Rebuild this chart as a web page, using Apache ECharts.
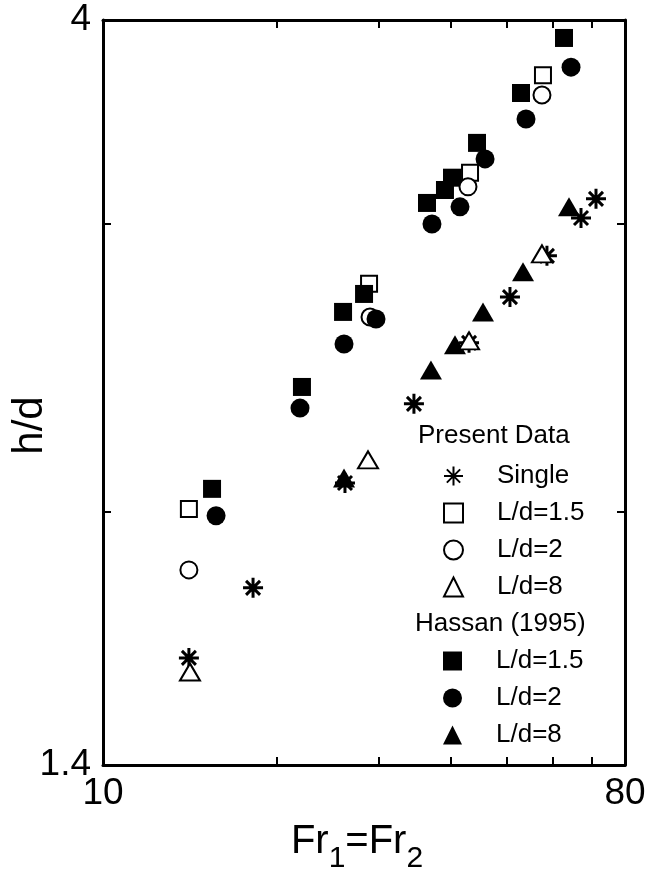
<!DOCTYPE html>
<html lang="en">
<head>
<meta charset="UTF-8">
<title>h/d versus Fr1=Fr2</title>
<style>
  html, body { margin: 0; padding: 0; background: #fff; }
  #chart { width: 648px; height: 873px; }
</style>
</head>
<body>
<div id="chart"></div>
<script src="https://cdn.jsdelivr.net/npm/echarts@6.0.0/dist/echarts.min.js"></script>
<script>
// log-log axes: ranges, tick marks, labelled values
const xRange = [10, 80];
const yRange = [1.4, 4];
const xTickValues = [20, 30, 40, 50, 60, 70];
const yTickValues = [2, 3];
const xLabelValues = [10, 80];
const yLabelValues = [1.4, 4];

// Present Data, pairs of [Fr, h/d]
const singleData = [[14.08, 1.628], [18.18, 1.797], [26.22, 2.083], [34.51, 2.329], [42.98, 2.538], [50.59, 2.707], [58.62, 2.869], [67.14, 3.026], [71.27, 3.109]];
const present15 = [[14.08, 2.008], [28.86, 2.758], [43.15, 3.225], [57.70, 3.701]];
const present2 = [[14.08, 1.843], [28.97, 2.632], [42.80, 3.162], [57.47, 3.599]];
const present8 = [[14.14, 1.596], [28.74, 2.152], [42.98, 2.545], [57.47, 2.877]];

// Hassan (1995)
const hassan15 = [[15.44, 2.066], [22.09, 2.385], [26.02, 2.651], [28.29, 2.719], [36.35, 3.091], [39.05, 3.148], [40.16, 3.203], [44.37, 3.364], [52.86, 3.609], [62.74, 3.900]];
const hassan2 = [[15.69, 1.989], [21.92, 2.315], [26.12, 2.534], [29.67, 2.625], [37.08, 3.001], [41.46, 3.074], [45.81, 3.289], [53.93, 3.479], [64.52, 3.743]];
const hassan8 = [[26.12, 2.098], [36.93, 2.443], [40.64, 2.531], [45.44, 2.651], [53.29, 2.805], [64.00, 3.074]];

const FONT = '"Liberation Sans", Arial, Helvetica, sans-serif';
const lg = v => Math.log10(v);
const toLog = pts => pts.map(p => [lg(p[0]), lg(p[1])]);
const fmt = v => String(Math.round(Math.pow(10, v) * 10) / 10);

const STAR = 'path://M10,0L10,20M0,10L20,10M3,3L17,17M3,17L17,3';
const openStyle = { color: '#fff', borderColor: '#000', borderWidth: 2, opacity: 1 };
const fillStyle = { color: '#000', opacity: 1 };
const starStyle = { color: 'rgba(0,0,0,0)', borderColor: '#000', borderWidth: 3, opacity: 1 };

const chart = echarts.init(document.getElementById('chart'));

function axisX(pos, withLabels) {
    return {
        type: 'value',
        position: pos,
        min: lg(xRange[0]),
        max: lg(xRange[1]),
        axisLine: { show: true, onZero: false, lineStyle: { color: '#000', width: 3 } },
        axisTick: { show: true, inside: true, length: 8, lineStyle: { color: '#000', width: 2 },
            customValues: xTickValues.map(lg) },
        axisLabel: { show: withLabels, margin: 10, fontSize: 37, color: '#000', fontFamily: FONT,
            customValues: xLabelValues.map(lg), formatter: fmt },
        splitLine: { show: false }
    };
}

function axisY(pos, withLabels) {
    return {
        type: 'value',
        position: pos,
        min: lg(yRange[0]),
        max: lg(yRange[1]),
        axisLine: { show: true, onZero: false, lineStyle: { color: '#000', width: 3 } },
        axisTick: { show: true, inside: true, length: 8, lineStyle: { color: '#000', width: 2 },
            customValues: yTickValues.map(lg) },
        axisLabel: { show: withLabels, margin: 12, fontSize: 37, color: '#000', fontFamily: FONT,
            customValues: yLabelValues.map(lg), formatter: fmt },
        splitLine: { show: false }
    };
}

const xBottom = axisX('bottom', true);
xBottom.name = '{a|Fr}{s|1}{a|=Fr}{s|2}';
xBottom.nameLocation = 'middle';
xBottom.nameGap = 57;
xBottom.nameTextStyle = {
    color: '#000',
    padding: [0, 14, 0, 0],
    rich: {
        a: { fontSize: 40, lineHeight: 46, verticalAlign: 'top', fontFamily: FONT, color: '#000' },
        s: { fontSize: 30, lineHeight: 34, verticalAlign: 'top', padding: [22, 0, 0, 0], fontFamily: FONT, color: '#000' }
    }
};

const yLeft = axisY('left', true);
yLeft.name = 'h/d';
yLeft.nameLocation = 'middle';
yLeft.nameGap = 52;
yLeft.nameMoveOverlap = false;
yLeft.nameTextStyle = { fontSize: 42, color: '#000', fontFamily: FONT, padding: [0, 66, 0, 0] };

function scatter(name, data, symbol, size, style) {
    return {
        name: name,
        type: 'scatter',
        data: toLog(data),
        symbol: symbol,
        symbolSize: size,
        itemStyle: style,
        emphasis: { disabled: true },
        z: 3
    };
}

const legendBase = {
    orient: 'vertical',
    left: 438,
    itemWidth: 19,
    itemHeight: 19,
    itemGap: 11,
    selectedMode: false,
    formatter: name => name.slice(2),
    textStyle: { fontSize: 26, color: '#000', fontFamily: FONT, padding: [0, 0, 0, 29] }
};

const option = {
    backgroundColor: '#fff',
    animation: false,
    grid: { left: 103, right: 23, top: 20, bottom: 108, containLabel: false, outerBoundsMode: 'none' },
    xAxis: [xBottom, axisX('top', false)],
    yAxis: [yLeft, axisY('right', false)],
    legend: [
        Object.assign({}, legendBase, { top: 458, data: ['P Single', 'P L/d=1.5', 'P L/d=2', 'P L/d=8'] }),
        Object.assign({}, legendBase, { top: 643, data: ['H L/d=1.5', 'H L/d=2', 'H L/d=8'] })
    ],
    graphic: [
        { type: 'text', left: 418, top: 423, style: { text: 'Present Data', font: '26px ' + FONT, fill: '#000' } },
        { type: 'text', left: 415, top: 611, style: { text: 'Hassan (1995)', font: '26px ' + FONT, fill: '#000' } }
    ],
    series: [
        scatter('P Single', singleData, STAR, 20, starStyle),
        scatter('P L/d=1.5', present15, 'rect', 16, openStyle),
        scatter('H L/d=1.5', hassan15, 'rect', 18, fillStyle),
        scatter('P L/d=2', present2, 'circle', 17, openStyle),
        scatter('H L/d=2', hassan2, 'circle', 19, fillStyle),
        scatter('H L/d=8', hassan8, 'triangle', [22, 19], fillStyle),
        scatter('P L/d=8', present8, 'triangle', [20, 17], openStyle)
    ]
};

chart.setOption(option);
</script>
</body>
</html>
